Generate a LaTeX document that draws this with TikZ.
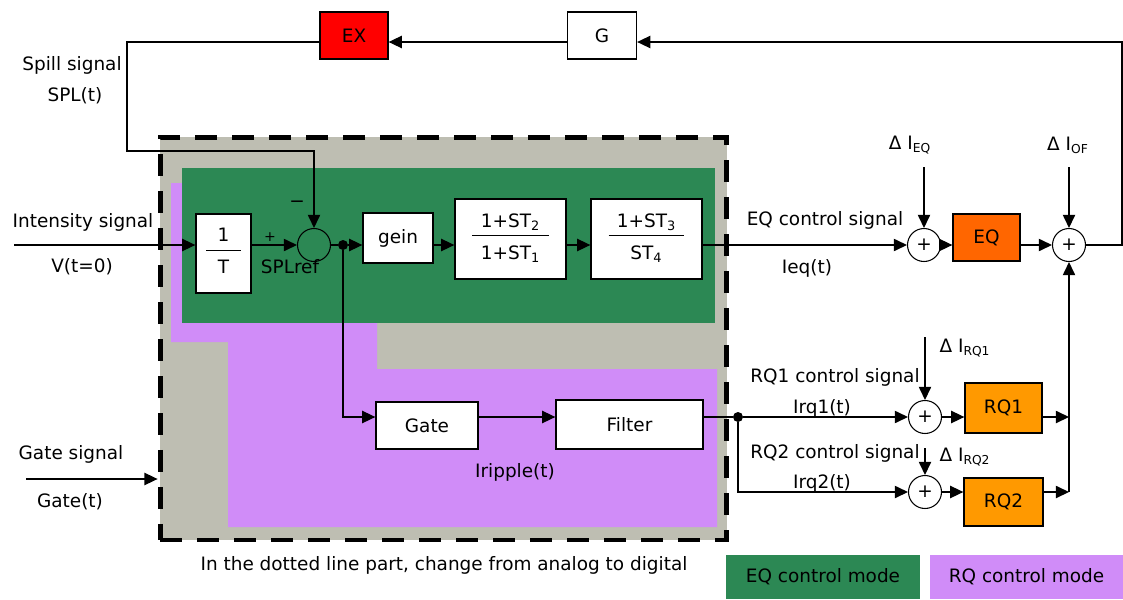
\documentclass[tikz,border=0pt]{standalone}
\usepackage{fontspec}
\setmainfont{DejaVu Sans}
\usetikzlibrary{arrows.meta}
\definecolor{eqgreen}{RGB}{44,136,84}
\definecolor{rqpurple}{RGB}{208,140,248}
\definecolor{grayfill}{RGB}{190,190,178}
\definecolor{exred}{RGB}{255,0,0}
\definecolor{eqorange}{RGB}{255,102,0}
\definecolor{rqorange}{RGB}{255,153,0}
\tikzset{
sig/.style={line width=0.75pt,-{Triangle[length=7.5pt,width=7pt]}},
wire/.style={line width=0.75pt},
blockbox/.style={draw,line width=0.75pt,fill=white,inner sep=0pt},
sumcirc/.style={draw,circle,line width=0.6pt,minimum size=0.66cm,inner sep=0pt},
dot/.style={circle,fill=black,minimum size=0.2cm,inner sep=0pt},
legendbox/.style={minimum width=3.88cm,minimum height=0.88cm,inner sep=0pt}
}
\newcommand{\blockfrac}[3]{%
{\setlength\arrayrulewidth{0.7pt}%
\begin{tabular}{@{}c@{}}\makebox[#3]{#1}\\[1pt]\hline\rule{0pt}{13pt}#2\end{tabular}}%
}
\newcommand{\deltaI}[1]{Δ I\textsubscript{\scriptsize #1}}

\begin{document}
\begin{tikzpicture}[x=0.02cm,y=-0.02cm,font=\fontsize{10.5}{12}\selectfont]
\useasboundingbox (0,0) rectangle (1123,599);

% coloured areas of the digital part
\fill[grayfill] (160,137) rectangle (727,540);
\fill[rqpurple] (171,183) -- (377,183) -- (377,369) -- (717,369) -- (717,527)
  -- (228,527) -- (228,342) -- (171,342) -- cycle;
\fill[eqgreen] (182,168) rectangle (715,323);
\node[draw,line width=2.8pt,dash pattern=on 0.44cm off 0.3cm,
  minimum width=11.34cm,minimum height=8.06cm,inner sep=0pt] (dig) at (443.5,338.5) {};

% blocks
\node[blockbox,fill=exred,minimum width=1.36cm,minimum height=0.94cm] (ex) at (354,35.5) {EX};
\node[blockbox,minimum width=1.38cm,minimum height=0.94cm] (g) at (602,35.5) {G};
\node[blockbox,minimum width=1.1cm,minimum height=1.58cm] (recip) at (223.5,253.5) {\blockfrac{1}{T}{0.7cm}};
\node[sumcirc] (sumsp) at (314,245) {};
\node[dot] (jct) at (343,245) {};
\node[blockbox,minimum width=1.4cm,minimum height=1cm] (gein) at (398,238) {gein};
\node[blockbox,minimum width=2.22cm,minimum height=1.6cm] (lead) at (510.5,239)
  {\blockfrac{1+ST\textsubscript{2}}{1+ST\textsubscript{1}}{1.54cm}};
\node[blockbox,minimum width=2.22cm,minimum height=1.6cm] (integ) at (646.5,239)
  {\blockfrac{1+ST\textsubscript{3}}{ST\textsubscript{4}}{1.52cm}};
\node[sumcirc] (sumeq) at (924,245) {+};
\node[blockbox,fill=eqorange,minimum width=1.34cm,minimum height=0.94cm] (eq) at (986.5,237.5) {EQ};
\node[sumcirc] (sumof) at (1069,245) {+};
\node[blockbox,minimum width=2.04cm,minimum height=0.94cm] (gate) at (427,425.5) {Gate};
\node[blockbox,minimum width=2.94cm,minimum height=0.98cm] (filter) at (629.5,424.5) {Filter};
\node[dot] (split) at (738,417) {};
\node[sumcirc] (sumrqa) at (925,417) {+};
\node[sumcirc] (sumrqb) at (925,492) {+};
\node[blockbox,fill=rqorange,minimum width=1.54cm,minimum height=1cm] (rqa) at (1003.5,408) {RQ1};
\node[blockbox,fill=rqorange,minimum width=1.58cm,minimum height=0.96cm] (rqb) at (1003.5,502) {RQ2};

% texts
\node (spill) at (72,65) {Spill signal};
\node (splt) at (75,96) {SPL(t)};
\node (intens) at (83,222) {Intensity signal};
\node (vt) at (82,267) {V(t=0)};
\node (gsl) at (71,454) {Gate signal};
\node (gt) at (70,502) {Gate(t)};
\node[font=\footnotesize] (plus) at (270,237) {+};
\node (minus) at (297,204) {−};
\node (splref) at (290,267) {SPLref};
\node (eqsig) at (825,220) {EQ control signal};
\node (ieq) at (807,268) {Ieq(t)};
\node (deq) at (910,145) {\deltaI{EQ}};
\node (dof) at (1068,145) {\deltaI{OF}};
\node (rqasig) at (835,377) {RQ1 control signal};
\node (irqa) at (822,408) {Irq1(t)};
\node (rqbsig) at (835,453) {RQ2 control signal};
\node (irqb) at (822,483) {Irq2(t)};
\node (drqa) at (965,348) {\deltaI{RQ1}};
\node (drqb) at (965,457) {\deltaI{RQ2}};
\node (ripple) at (515,472) {Iripple(t)};
\node (note) at (444,565) {In the dotted line part, change from analog to digital};
\node[legendbox,fill=eqgreen] (legeq) at (823,577) {EQ control mode};
\node[legendbox,fill=rqpurple] (legrq) at (1026.5,577) {RQ control mode};

% free ends
\coordinate (vin) at (14,245);
\coordinate (gin) at (26,479);
\coordinate (fb) at (1122,42);
\coordinate (spl) at (127,151);
\coordinate (deqin) at (924,167);
\coordinate (dofin) at (1069,167);
\coordinate (drqain) at (925,337);
\coordinate (drqbin) at (925,448);

% EQ loop
\draw[sig] (vin) -- (vin -| recip.west);
\draw[sig] (recip.east |- sumsp) -- (sumsp.west);
\draw[wire] (sumsp.east) -- (jct);
\draw[sig] (jct) -- (jct -| gein.west);
\draw[sig] (gein.east |- jct) -- (lead.west |- jct);
\draw[sig] (lead.east |- jct) -- (integ.west |- jct);
\draw[sig] (integ.east |- jct) -- (sumeq.west);
\draw[sig] (deqin) -- (sumeq.north);
\draw[sig] (sumeq.east) -- (eq.west |- sumeq);
\draw[sig] (eq.east |- sumof) -- (sumof.west);
\draw[sig] (dofin) -- (sumof.north);
\draw[sig] (sumof.east) -| (fb) -- (fb -| g.east);
\draw[sig] (fb -| g.west) -- (fb -| ex.east);
\draw[sig] (fb -| ex.west) -| (spl) -| (sumsp.north);

% RQ branch
\draw[sig] (jct) |- (gate.west |- split);
\draw[sig] (gate.east |- split) -- (filter.west |- split);
\draw[wire] (filter.east |- split) -- (split);
\draw[sig] (split) -- (sumrqa.west);
\draw[sig] (split) |- (sumrqb.west);
\draw[sig] (drqain) -- (sumrqa.north);
\draw[sig] (drqbin) -- (sumrqb.north);
\draw[sig] (sumrqa.east) -- (rqa.west |- sumrqa);
\draw[sig] (sumrqb.east) -- (rqb.west |- sumrqb);
\draw[sig] (rqa.east |- sumrqa) -- (sumrqa -| sumof);
\draw[sig] (rqb.east |- sumrqb) -- (sumrqb -| sumof);
\draw[sig] (sumrqb -| sumof) -- (sumof.south);
\draw[sig] (gin) -- (gin -| dig.west);

\end{tikzpicture}
\end{document}
